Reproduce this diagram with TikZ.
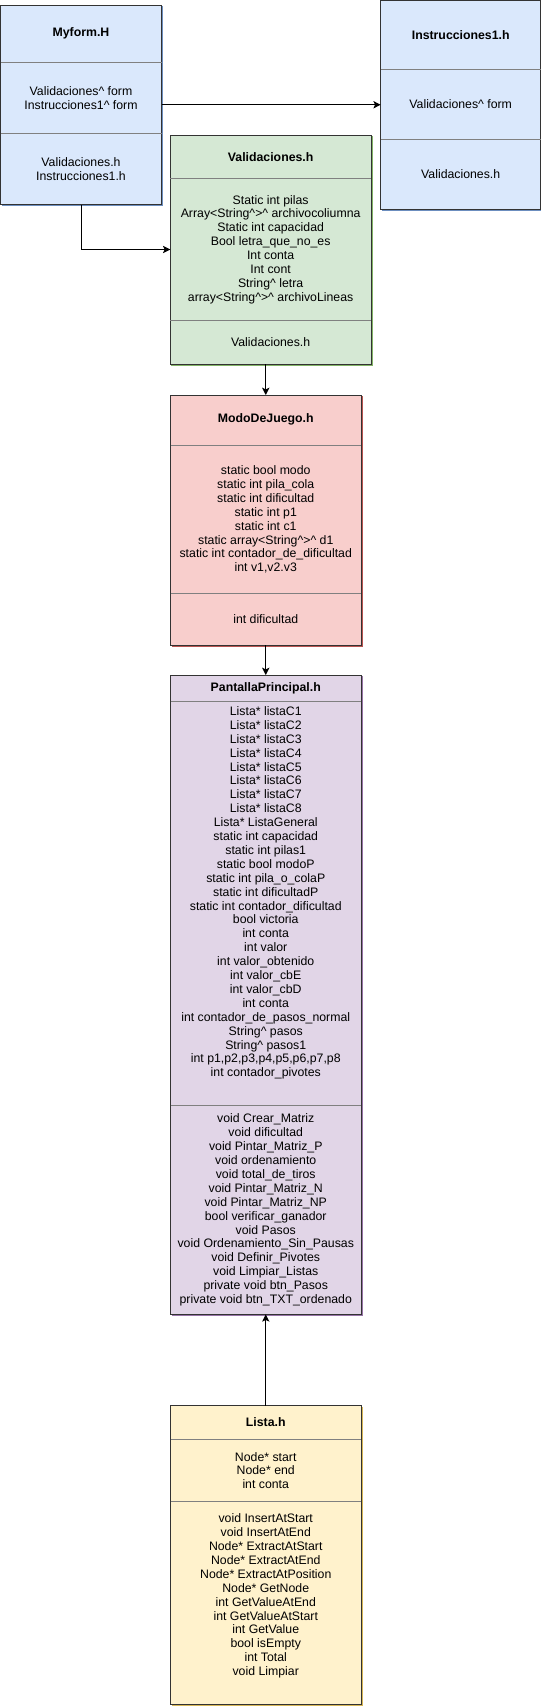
\documentclass[tikz,border=0pt]{standalone}
\usepackage{fontspec}
\setmainfont{Liberation Sans}
\usetikzlibrary{arrows.meta}
\definecolor{bluefill}{HTML}{DAE8FC}\definecolor{bluestroke}{HTML}{6C8EBF}
\definecolor{greenfill}{HTML}{D5E8D4}\definecolor{greenstroke}{HTML}{82B366}
\definecolor{redfill}{HTML}{F8CECC}\definecolor{redstroke}{HTML}{B85450}
\definecolor{purplefill}{HTML}{E1D5E7}\definecolor{purplestroke}{HTML}{9673A6}
\definecolor{yellowfill}{HTML}{FFF2CC}\definecolor{yellowstroke}{HTML}{D6B656}
\definecolor{boxedge}{HTML}{333333}
\definecolor{sepgrey}{HTML}{808080}
\newcommand\crt{\textasciicircum}
\begin{document}
\begin{tikzpicture}[x=0.75pt,y=-0.75pt,
  umlbox/.style={draw=boxedge, line width=0.75pt, inner sep=0pt, outer sep=0pt, rectangle, anchor=north west},
  sepline/.style={draw=sepgrey, line width=0.75pt},
  txt/.style={align=center, inner sep=0pt, font=\fontsize{9.225pt}{10.425pt}\selectfont, text=black},
  ttl/.style={align=center, inner sep=0pt, font=\fontsize{9.225pt}{10.425pt}\selectfont\bfseries, text=black},
  arr/.style={draw=black, line width=0.75pt, -{Stealth[length=5.5pt,width=5.5pt,inset=1.3pt]}},
  rim/.style={line width=0.75pt},
]
\useasboundingbox (0,0) rectangle (541,1706);

% ---------- Myform.H ----------
\node[umlbox, fill=bluefill, minimum width={161*0.75pt}, minimum height={199.5*0.75pt}] (myform) at (0.5,5) {};
\draw[rim, bluestroke] ([xshift=0.75pt,yshift=-0.75pt]myform.north east) -- ([xshift=0.75pt,yshift=-0.75pt]myform.south east) -- ([xshift=0.75pt,yshift=-0.75pt]myform.south west);
\draw[sepline] (myform.west |- 0,62.3) -- (myform.east |- 0,62.3);
\draw[sepline] (myform.west |- 0,133.3) -- (myform.east |- 0,133.3);
\node[ttl] (myformT) at (81,33.7) {Myform.H};
\node[txt] (myformA) at (81,97.8) {Validaciones\crt{} form\\Instrucciones1\crt{} form};
\node[txt] (myformM) at (81,168.9) {Validaciones.h\\Instrucciones1.h};

% ---------- Instrucciones1.h ----------
\node[umlbox, fill=bluefill, minimum width={160*0.75pt}, minimum height={208.5*0.75pt}] (instr) at (380.7,0.5) {};
\draw[rim, bluestroke] ([xshift=0.75pt,yshift=-0.75pt]instr.north east) -- ([xshift=0.75pt,yshift=-0.75pt]instr.south east) -- ([xshift=0.75pt,yshift=-0.75pt]instr.south west);
\draw[sepline] (instr.west |- 0,69.3) -- (instr.east |- 0,69.3);
\draw[sepline] (instr.west |- 0,139.3) -- (instr.east |- 0,139.3);
\node[ttl] (instrT) at (460.7,34.9) {Instrucciones1.h};
\node[txt] (instrA) at (460.7,104.3) {Validaciones\crt{} form};
\node[txt] (instrM) at (460.7,174.2) {Validaciones.h};

% ---------- Validaciones.h ----------
\node[umlbox, fill=greenfill, minimum width={200.7*0.75pt}, minimum height={229*0.75pt}] (valid) at (170.3,135) {};
\draw[rim, greenstroke] ([xshift=0.75pt,yshift=-0.75pt]valid.north east) -- ([xshift=0.75pt,yshift=-0.75pt]valid.south east) -- ([xshift=0.75pt,yshift=-0.75pt]valid.south west);
\draw[sepline] (valid.west |- 0,178.3) -- (valid.east |- 0,178.3);
\draw[sepline] (valid.west |- 0,320.7) -- (valid.east |- 0,320.7);
\node[ttl] (validT) at (270.65,156.65) {Validaciones.h};
\node[txt] (validA) at (270.65,249.5) {Static int pilas\\Array<String\crt>\crt{} archivocoliumna\\Static int capacidad\\Bool letra\_que\_no\_es\\Int conta\\Int cont\\String\crt{} letra\\array<String\crt>\crt{} archivoLineas};
\node[txt] (validM) at (270.65,342.5) {Validaciones.h};

% ---------- ModoDeJuego.h ----------
\node[umlbox, fill=redfill, minimum width={190.5*0.75pt}, minimum height={250*0.75pt}] (modo) at (170.5,395) {};
\draw[rim, redstroke] ([xshift=0.75pt,yshift=-0.75pt]modo.north east) -- ([xshift=0.75pt,yshift=-0.75pt]modo.south east) -- ([xshift=0.75pt,yshift=-0.75pt]modo.south west);
\draw[sepline] (modo.west |- 0,445) -- (modo.east |- 0,445);
\draw[sepline] (modo.west |- 0,593.3) -- (modo.east |- 0,593.3);
\node[ttl] (modoT) at (265.75,419) {ModoDeJuego.h};
\node[txt] (modoA) at (265.75,519.5) {static bool modo\\static int pila\_cola\\static int dificultad\\static int p1\\static int c1\\static array<String\crt>\crt{} d1\\static int contador\_de\_dificultad\\int v1,v2.v3};
\node[txt] (modoM) at (265.75,619.2) {int dificultad};

% ---------- PantallaPrincipal.h ----------
\node[umlbox, fill=purplefill, minimum width={190.5*0.75pt}, minimum height={639.3*0.75pt}] (pant) at (170.5,675) {};
\draw[rim, purplestroke] ([xshift=0.75pt,yshift=-0.75pt]pant.north east) -- ([xshift=0.75pt,yshift=-0.75pt]pant.south east) -- ([xshift=0.75pt,yshift=-0.75pt]pant.south west);
\draw[sepline] (pant.west |- 0,701.5) -- (pant.east |- 0,701.5);
\draw[sepline] (pant.west |- 0,1105.3) -- (pant.east |- 0,1105.3);
\node[ttl] (pantT) at (265.75,688.1) {PantallaPrincipal.h};
\node[txt] (pantA) at (265.75,893) {Lista* listaC1\\Lista* listaC2\\Lista* listaC3\\Lista* listaC4\\Lista* listaC5\\Lista* listaC6\\Lista* listaC7\\Lista* listaC8\\Lista* ListaGeneral\\static int capacidad\\static int pilas1\\static bool modoP\\static int pila\_o\_colaP\\static int dificultadP\\static int contador\_dificultad\\bool victoria\\int conta\\int valor\\int valor\_obtenido\\int valor\_cbE\\int valor\_cbD\\int conta\\int contador\_de\_pasos\_normal\\String\crt{} pasos\\String\crt{} pasos1\\int p1,p2,p3,p4,p5,p6,p7,p8\\int contador\_pivotes};
\node[txt] (pantM) at (265.75,1210) {void Crear\_Matriz\\void dificultad\\void Pintar\_Matriz\_P\\void ordenamiento\\void total\_de\_tiros\\void Pintar\_Matriz\_N\\void Pintar\_Matriz\_NP\\bool verificar\_ganador\\void Pasos\\void Ordenamiento\_Sin\_Pausas\\void Definir\_Pivotes\\void Limpiar\_Listas\\private void btn\_Pasos\\private void btn\_TXT\_ordenado};

% ---------- Lista.h ----------
\node[umlbox, fill=yellowfill, minimum width={190.5*0.75pt}, minimum height={298.8*0.75pt}] (lista) at (170.5,1405.7) {};
\draw[rim, yellowstroke] ([xshift=0.75pt,yshift=-0.75pt]lista.north east) -- ([xshift=0.75pt,yshift=-0.75pt]lista.south east) -- ([xshift=0.75pt,yshift=-0.75pt]lista.south west);
\draw[sepline] (lista.west |- 0,1439.3) -- (lista.east |- 0,1439.3);
\draw[sepline] (lista.west |- 0,1501.7) -- (lista.east |- 0,1501.7);
\node[ttl] (listaT) at (265.75,1422.5) {Lista.h};
\node[txt] (listaA) at (265.75,1470.5) {Node* start\\Node* end\\int conta};
\node[txt] (listaM) at (265.75,1596) {void InsertAtStart\\void InsertAtEnd\\Node* ExtractAtStart\\Node* ExtractAtEnd\\Node* ExtractAtPosition\\Node* GetNode\\int GetValueAtEnd\\int GetValueAtStart\\int GetValue\\bool isEmpty\\int Total\\void Limpiar};

% ---------- connectors ----------
\draw[arr] (myform.east) -- (instr.west);
\draw[arr] (myform.south) |- (valid.west);
\draw[arr] (modo.north |- valid.south) -- (modo.north);
\draw[arr] (modo.south) -- (pant.north);
\draw[arr] (lista.north) -- (pant.south);
\end{tikzpicture}
\end{document}
